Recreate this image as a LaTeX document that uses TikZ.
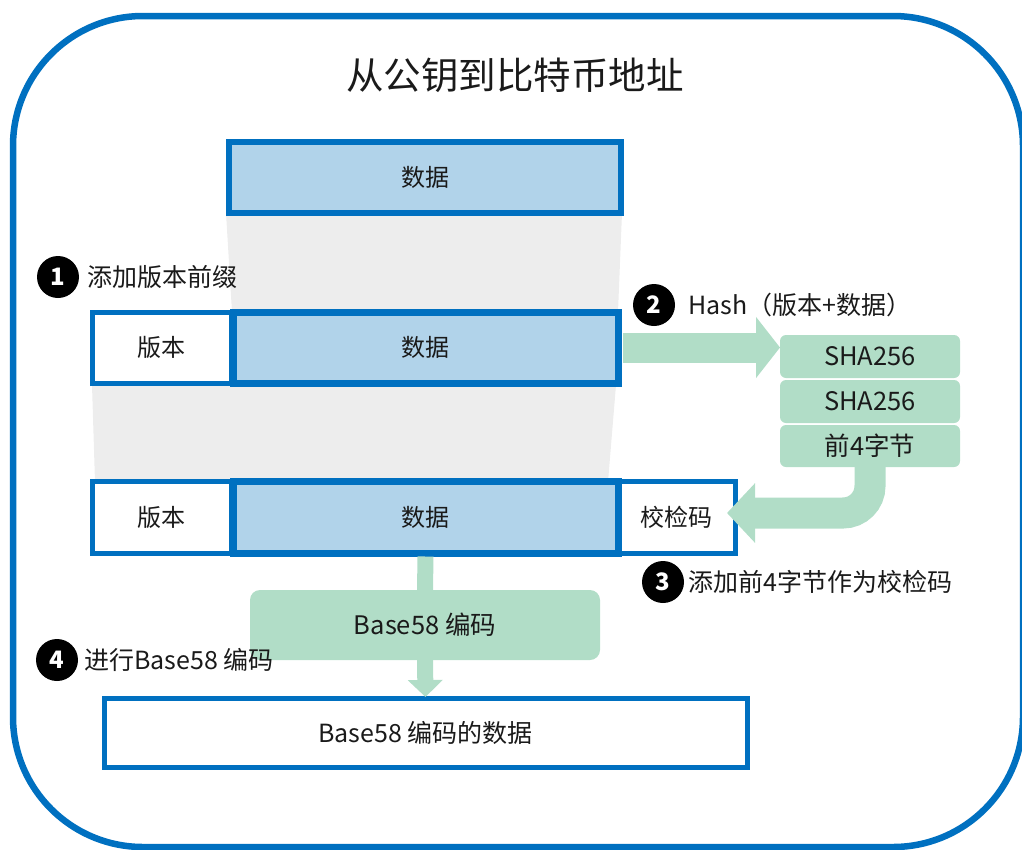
\documentclass[tikz,border=0pt]{standalone}
\usepackage{fontspec}
\setmainfont{Noto Sans CJK SC}
\usetikzlibrary{
		positioning,
		arrows.meta
	}
\definecolor{frameblue}{HTML}{0070C0}
\definecolor{datafill}{HTML}{B1D3EA}
\definecolor{hashgreen}{HTML}{B1DDC7}
\definecolor{shadegray}{HTML}{EDEDED}
\definecolor{inkblack}{HTML}{1A1A1A}
\tikzset{
		>=stealth,
		box/.style={draw=frameblue, fill=white, line width=5pt, inner sep=0pt, outer sep=0pt,
			minimum height=71pt, text=inkblack, font=\fontsize{24}{28}\selectfont},
		databox/.style={box, fill=datafill, line width=7pt},
		hashbox/.style={fill=hashgreen, rounded corners=6pt, inner sep=0pt, outer sep=0pt,
			minimum width=180pt, minimum height=43pt, text=inkblack, font=\fontsize{25.5}{28}\selectfont},
		numdot/.style={circle, fill=black, inner sep=0pt, minimum size=42pt, text=white,
			font=\fontsize{24}{24}\selectfont\bfseries},
		steplabel/.style={inner sep=0pt, text=inkblack, font=\fontsize{25}{28}\selectfont},
		greenshaft/.style={draw=hashgreen, line width=#1},
		greenarrow/.style={draw=hashgreen, line width=30pt, -{Triangle[width=60pt,length=24pt]}}
	}

\begin{document}
\begin{tikzpicture}[x=1pt, y=1pt] % one unit = one pixel of the reference, y downwards is negative
		\useasboundingbox (0,0) rectangle (1022,-849);
		\draw[frameblue, line width=6.5pt, rounded corners=130pt] (13,-16) rectangle (1023,-847); % the outer frame
		\node[text=inkblack, font=\fontsize{37.5}{40}\selectfont] (title) at (515,-75) {从公钥到比特币地址};

		% grey funnels between the rows
		\fill[shadegray] (226,-213) -- (622,-213) -- (618,-312) -- (232,-312) -- cycle;
		\fill[shadegray] (92,-385) -- (616,-385) -- (608,-482) -- (95,-482) -- cycle;

		% row 1
		\node[databox, minimum width=392pt, line width=6pt] (data1) at (425,-177.5) {数据};
		% row 2
		\node[box, minimum width=139pt] (ver2) at (161.5,-347.5) {版本};
		\node[databox, minimum width=385pt] (data2) at (425.5,-347.5) {数据};
		% row 3
		\node[box, minimum width=139pt, minimum height=72pt] (ver3) at (161.5,-517) {版本};
		\node[box, minimum width=117pt, minimum height=72pt] (chk3) at (676.5,-517) {校检码};
		\node[databox, minimum width=385pt, minimum height=72pt] (data3) at (425.5,-517) {数据};

		% hashing
		\node[hashbox] (sha1) at (870,-356.5) {SHA256};
		\node[hashbox, below=2pt of sha1] (sha2) {SHA256};
		\node[hashbox, below=2pt of sha2, minimum height=42pt] (first4) {前4字节};

		% encoding
		\node[hashbox, rounded corners=10pt, minimum width=350pt, minimum height=70pt] (enc) at (425,-625) {Base58 编码};
		\node[box, minimum width=643pt, minimum height=69pt, font=\fontsize{25}{28}\selectfont] (addr) at (425.5,-732.5) {Base58 编码的数据};

		\draw[greenarrow] ([xshift=5pt]data2.east) -- (sha1.west |- data2.east);
		\draw[greenarrow, line width=31pt, -{Triangle[width=58pt,length=28pt]}]
		  (first4.south) -- ++(0,-19) to[out=-90,in=0] ++(-27,-27) -- ([xshift=-8pt,yshift=4pt]chk3.east);
		\draw[greenshaft=16pt] ([yshift=-3.5pt]data3.south) -- (enc.north);
		\draw[greenarrow, line width=16pt, -{Triangle[width=34pt,length=17pt]}] (enc.south) -- ([yshift=1pt]addr.north);

		% the numbered steps
		\node[numdot] (n1) at (58,-277) {1};
		\node[numdot] (n2) at (654,-305) {2};
		\node[numdot] (n3) at (663,-582) {3};
		\node[numdot] (n4) at (57,-660) {4};
		\node[steplabel, right=8pt of n1] (l1) {添加版本前缀};
		\node[steplabel, right=13pt of n2] (l2) {Hash（版本+数据）};
		\node[steplabel, right=4pt of n3] (l3) {添加前4字节作为校检码};
		\node[steplabel, right=6pt of n4] (l4) {进行Base58 编码};
	\end{tikzpicture}
\end{document}
